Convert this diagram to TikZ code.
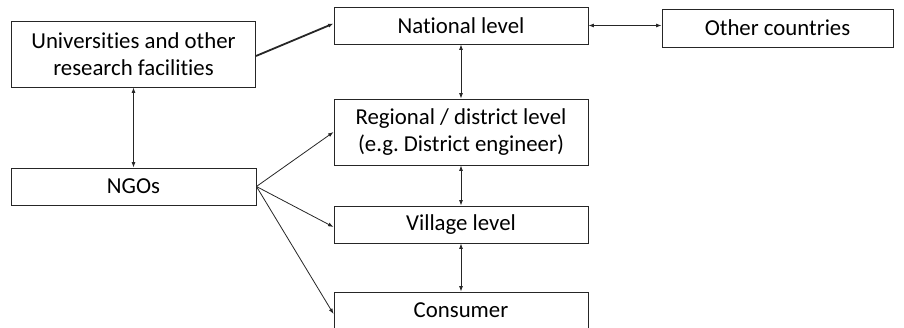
\documentclass[tikz,border=0pt]{standalone}
\usepackage{fontspec}
\setmainfont{Carlito}[Ligatures=NoCommon]
\usetikzlibrary{arrows.meta}
\frenchspacing
\tikzset{
  box/.style={draw=black!85, line width=0.9pt, inner sep=0pt, align=center,
    font=\fontsize{22.8}{26.5}\selectfont, text=black},
  link/.style={draw=black!85, line width=0.8pt,
    {Latex[length=5.5pt,width=4pt]}-{Latex[length=5.5pt,width=4pt]}},
  feed/.style={draw=black!85, line width=0.8pt, -{Latex[length=5.5pt,width=4pt]}},
}
\begin{document}
\begin{tikzpicture}[x=1pt,y=-1pt]
  \useasboundingbox (0,0) rectangle (904,327);
  \clip (0,0) rectangle (904,327);
  % boxes
  \node[box, minimum width=244pt, minimum height=66pt] (univ) at (133.5,54)
    {Universities and other\\research facilities};
  \node[box, minimum width=254pt, minimum height=37pt] (nat) at (461,25.5) {National level};
  \node[box, minimum width=231pt, minimum height=38pt] (oth) at (777.5,28) {Other countries};
  \node[box, minimum width=254pt, minimum height=66pt] (reg) at (461,132)
    {Regional / district level\\(e.g. District engineer)};
  \node[box, minimum width=245pt, minimum height=37pt] (ngo) at (133.5,186.5) {NGOs};
  \node[box, minimum width=254pt, minimum height=37pt] (vil) at (461,224.5) {Village level};
  \node[box, minimum width=254pt, minimum height=37pt] (con) at (461,310.5) {Consumer};
  % connectors
  \draw[feed, line width=1.8pt] ([yshift=-2pt]univ.east) -- ([yshift=2pt]nat.west);
  \draw[link] (nat.east) -- (oth.west |- nat.east);
  \draw[link] (univ.south) -- (ngo.north);
  \draw[link] (nat.south) -- (reg.north);
  \draw[link] (reg.south) -- (vil.north);
  \draw[link] (vil.south) -- (con.north);
  \draw[feed] (ngo.east) -- (reg.west);
  \draw[feed] (ngo.east) -- ([yshift=-2.5pt]vil.west);
  \draw[feed] (ngo.east) -- ([yshift=-3.5pt]con.west);
\end{tikzpicture}
\end{document}
